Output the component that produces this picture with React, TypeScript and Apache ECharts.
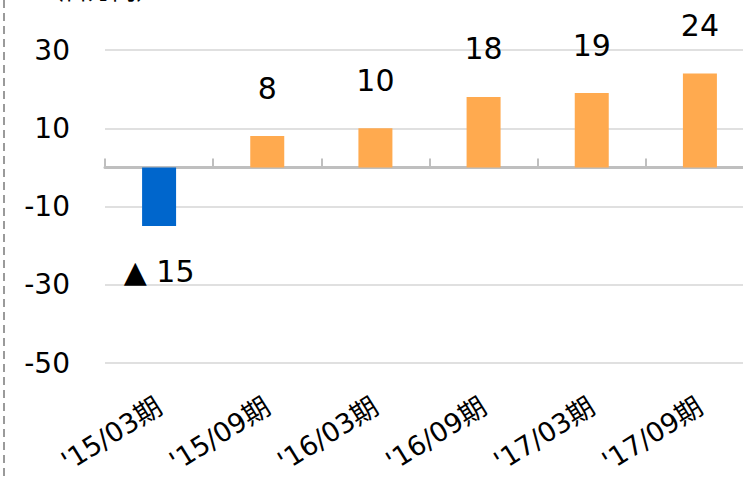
import React, { useEffect, useRef } from "react";
import * as echarts from "echarts";

const categories = ["'15/03期", "'15/09期", "'16/03期", "'16/09期", "'17/03期", "'17/09期"];
const values = [-15, 8, 10, 18, 19, 24];
const unitLabel = "（百万円）";
const yMin = -50;
const yMax = 30;
const yInterval = 20;

const FONT = "'DejaVu Sans', Verdana, 'Noto Sans CJK JP', sans-serif";

export default function App() {
  const ref = useRef<HTMLDivElement>(null);
  useEffect(() => {
    if (!ref.current) return;
    const chart = echarts.init(ref.current, null, { renderer: "svg" });
    chart.setOption({
      animation: false,
      backgroundColor: "#ffffff",
      textStyle: { fontFamily: FONT },
      grid: {
        left: 105,
        top: 50,
        bottom: 116,
        width: 649,
        containLabel: false,
        outerBoundsMode: "none",
      },
      graphic: [
        {
          type: "line",
          shape: { x1: 4, y1: 0, x2: 4, y2: 479 },
          style: { stroke: "#9a9a9a", lineWidth: 2, lineDash: [8, 5] },
        },
        {
          type: "text",
          x: 40,
          y: -21,
          silent: true,
          style: { text: unitLabel, fontSize: 24, fill: "#000", fontFamily: FONT },
        },
      ],
      xAxis: [
        {
          type: "category",
          data: categories,
          axisLine: { show: true, onZero: true, lineStyle: { color: "#bfbfbf", width: 3 } },
          axisTick: { show: true, inside: true, length: 9, lineStyle: { color: "#bfbfbf", width: 2 } },
          axisLabel: { show: false },
        },
        {
          type: "category",
          data: categories,
          position: "bottom",
          axisLine: { show: false },
          axisTick: { show: false },
          axisLabel: {
            show: true,
            rotate: 32,
            margin: 41,
            fontSize: 27,
            lineHeight: 30,
            color: "#000",
            fontFamily: FONT,
          },
        },
      ],
      yAxis: {
        type: "value",
        min: yMin,
        max: yMax,
        interval: yInterval,
        axisLine: { show: false },
        axisTick: { show: false },
        axisLabel: { fontSize: 28, color: "#000", margin: 35, fontFamily: FONT },
        splitLine: { lineStyle: { color: "#e0e0e0", width: 2 } },
      },
      series: [
        {
          type: "bar",
          xAxisIndex: 0,
          barWidth: 34,
          data: values.map((v) => ({
            value: v,
            itemStyle: { color: v < 0 ? "#0066CC" : "#FFAA4F" },
            label: {
              show: true,
              position: v < 0 ? "bottom" : "top",
              distance: v < 0 ? 30 : 33,
              fontSize: 30,
              color: "#000",
              fontFamily: FONT,
              formatter: v < 0 ? "▲ " + Math.abs(v) : String(v),
            },
          })),
        },
      ],
    });
    return () => chart.dispose();
  }, []);
  return (
    <div
      ref={ref}
      style={{ position: "absolute", left: 0, top: 0, width: 743, height: 479 }}
    />
  );
}
